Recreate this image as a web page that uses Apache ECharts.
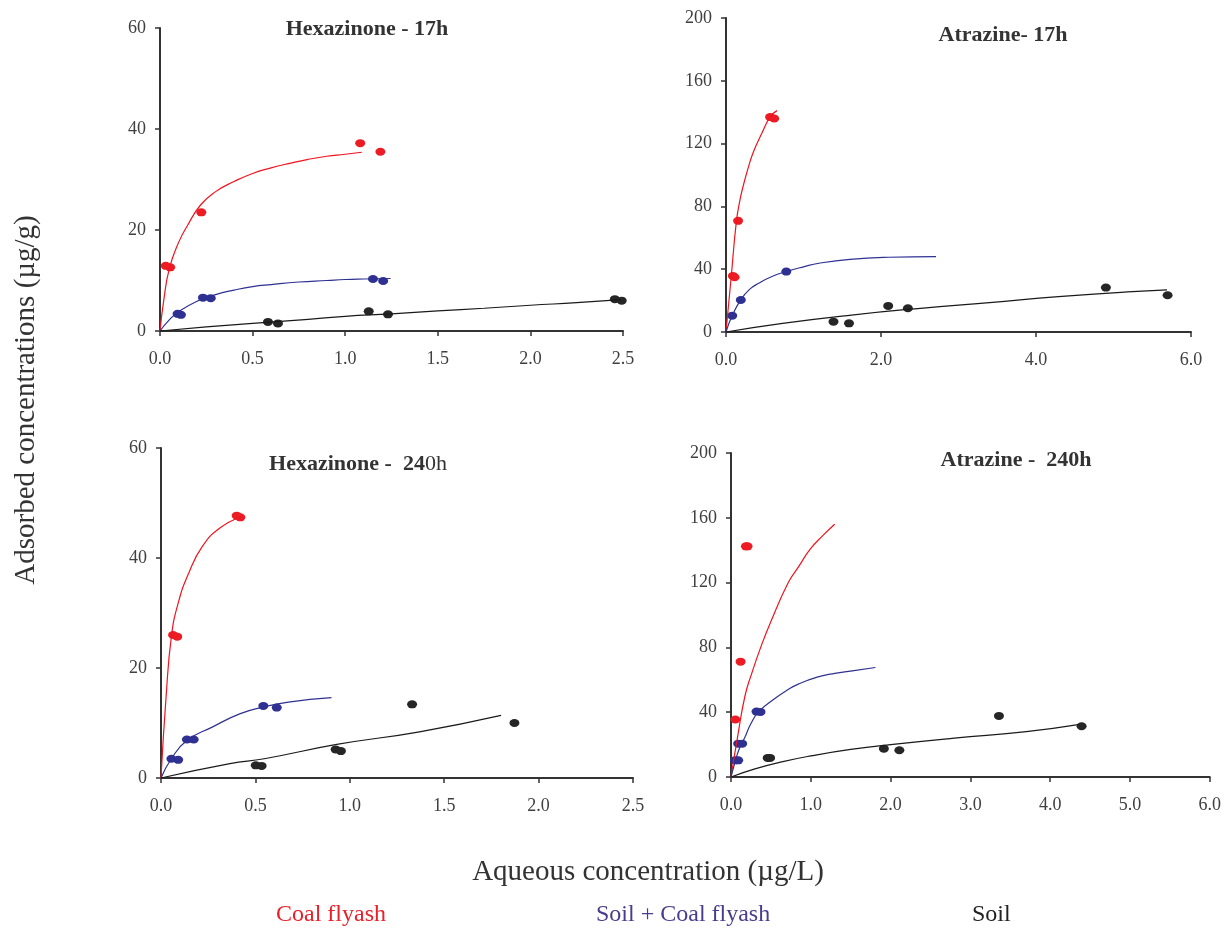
<!DOCTYPE html>
<html>
<head>
<meta charset="utf-8">
<script src="https://cdn.jsdelivr.net/npm/echarts@6/dist/echarts.min.js"></script>
<style>
  html, body { margin: 0; padding: 0; background: #fff; }
  #main { width: 1224px; height: 928px; }
</style>
</head>
<body>
<div id="main"></div>
<script>
// Hexazinone - 17h
var hex17Coal = [[0.031, 12.9], [0.055, 12.6], [0.223, 23.5], [1.081, 37.2], [1.19, 35.5]];
var hex17CoalFit = [[0, 0], [0.02, 6], [0.05, 12.3], [0.1, 17.5], [0.15, 21], [0.22, 25], [0.3, 27.6], [0.4, 29.6], [0.5, 31.2], [0.6, 32.3], [0.7, 33.2], [0.8, 34], [0.9, 34.6], [1.0, 35], [1.09, 35.4]];
var hex17Mix = [[0.095, 3.4], [0.113, 3.2], [0.232, 6.6], [0.274, 6.5], [1.15, 10.3], [1.205, 9.9]];
var hex17MixFit = [[0, 0], [0.05, 2.2], [0.1, 3.8], [0.2, 5.9], [0.3, 7.2], [0.4, 8.1], [0.5, 8.8], [0.6, 9.2], [0.75, 9.7], [0.9, 10.0], [1.0, 10.2], [1.1, 10.3], [1.245, 10.4]];
var hex17Soil = [[0.583, 1.8], [0.637, 1.5], [1.127, 3.9], [1.231, 3.3], [2.456, 6.3], [2.493, 6.0]];
var hex17SoilFit = [[0, 0], [0.25, 0.8], [0.5, 1.5], [0.8, 2.3], [1.0, 2.9], [1.25, 3.4], [1.5, 4.0], [1.75, 4.5], [2.0, 5.1], [2.25, 5.6], [2.49, 6.2]];

// Atrazine - 17h
var atr17Coal = [[0.089, 35.7], [0.111, 34.9], [0.156, 70.8], [0.569, 136.9], [0.622, 136.0]];
var atr17CoalFit = [[0, 0], [0.067, 35], [0.133, 70], [0.18, 84], [0.222, 93], [0.289, 105], [0.356, 115], [0.467, 127], [0.569, 137], [0.658, 141]];
var atr17Mix = [[0.08, 10.4], [0.191, 20.4], [0.778, 38.5]];
var atr17MixFit = [[0, 0], [0.08, 10.5], [0.19, 20.5], [0.3, 27], [0.42, 31], [0.6, 35.5], [0.778, 38.5], [1.0, 41.5], [1.2, 43.8], [1.6, 46.3], [2.1, 47.6], [2.71, 48]];
var atr17Soil = [[1.387, 6.6], [1.587, 5.5], [2.093, 16.6], [2.347, 15.1], [4.902, 28.3], [5.698, 23.4]];
var atr17SoilFit = [[0, 0], [0.73, 5.5], [1.62, 10.8], [2.51, 15.1], [3.4, 18.7], [4.29, 22.5], [5.18, 25.5], [5.69, 26.8]];

// Hexazinone - 240h
var hex240Coal = [[0.064, 26.0], [0.086, 25.7], [0.401, 47.7], [0.42, 47.4]];
var hex240CoalFit = [[0, 0], [0.027, 14.8], [0.055, 25.7], [0.091, 31.8], [0.146, 37.2], [0.219, 42.1], [0.31, 45.4], [0.42, 47.4]];
var hex240Mix = [[0.055, 3.5], [0.091, 3.3], [0.137, 7.0], [0.173, 7.0], [0.542, 13.1], [0.613, 12.8]];
var hex240MixFit = [[0, 0], [0.055, 3.5], [0.137, 6.8], [0.274, 9.3], [0.42, 11.7], [0.542, 12.9], [0.675, 13.8], [0.903, 14.6]];
var hex240Soil = [[0.502, 2.3], [0.533, 2.2], [0.925, 5.2], [0.953, 4.9], [1.33, 13.4], [1.872, 10.0]];
var hex240SoilFit = [[0, 0], [0.365, 2.6], [0.547, 3.5], [0.931, 6.1], [1.369, 8.4], [1.801, 11.4]];

// Atrazine - 240h
var atr240Coal = [[0.054, 35.5], [0.12, 71.2], [0.187, 142.4], [0.207, 142.4]];
var atr240CoalFit = [[0, 0], [0.08, 24], [0.175, 50], [0.26, 64], [0.372, 80], [0.5, 96], [0.718, 120], [0.85, 130], [0.99, 140.5], [1.15, 149], [1.3, 156]];
var atr240Mix = [[0.05, 10.3], [0.09, 10.3], [0.09, 20.6], [0.14, 20.6], [0.32, 40.4], [0.37, 40.2]];
var atr240MixFit = [[0, 0], [0.05, 9], [0.1, 17], [0.17, 24], [0.25, 33], [0.35, 40.5], [0.55, 48.5], [0.7, 53.5], [0.85, 57.5], [1.09, 61.8], [1.3, 64], [1.52, 65.5], [1.81, 67.6]];
var atr240Soil = [[0.46, 11.8], [0.49, 11.8], [1.916, 17.5], [2.11, 16.5], [3.358, 37.7], [4.394, 31.3]];
var atr240SoilFit = [[0, 0], [0.3, 5], [0.65, 9.5], [1.0, 13], [1.5, 17], [2.0, 20], [2.8, 24], [3.7, 28], [4.37, 32.5]];

var panelTitles = ['Hexazinone - 17h', 'Atrazine- 17h', '{b|Hexazinone -  24}{n|0h}', 'Atrazine -  240h'];
var xMax = [2.5, 6, 2.5, 6];
var xStep = [0.5, 2, 0.5, 1];
var yMax = [60, 200, 60, 200];
var yStep = [20, 40, 20, 40];
var groupNames = ['Coal flyash', 'Soil + Coal flyash', 'Soil'];

var panels = [
    [hex17Coal, hex17CoalFit, hex17Mix, hex17MixFit, hex17Soil, hex17SoilFit],
    [atr17Coal, atr17CoalFit, atr17Mix, atr17MixFit, atr17Soil, atr17SoilFit],
    [hex240Coal, hex240CoalFit, hex240Mix, hex240MixFit, hex240Soil, hex240SoilFit],
    [atr240Coal, atr240CoalFit, atr240Mix, atr240MixFit, atr240Soil, atr240SoilFit]
];

var serif = '"Liberation Serif", "Times New Roman", serif';
var dotColors = ['#ed1c24', '#2e3192', '#262626'];
var lineColors = ['#f0141e', '#2e3192', '#1a1a1a'];
var legendColors = ['#e8202a', '#4a3c8c', '#222'];

var grids = [
    { left: 160, top: 28, width: 463, height: 303 },
    { left: 726, top: 18, width: 465, height: 314 },
    { left: 161, top: 448, width: 472, height: 330 },
    { left: 731, top: 453, width: 479, height: 324 }
];
var titlePos = [[362, 13], [998, 19], [353, 448], [1011, 444]];
var legendLeft = [276, 596, 972];

var xAxes = [], yAxes = [], titles = [], series = [], legends = [];
for (var i = 0; i < 4; i++) {
    xAxes.push({
        type: 'value', gridIndex: i, min: 0, max: xMax[i], interval: xStep[i],
        splitLine: { show: false },
        axisLine: { lineStyle: { color: '#333', width: 2 } },
        axisTick: { length: 5, lineStyle: { color: '#333', width: 1.5 } },
        axisLabel: {
            margin: 19, fontSize: 18, color: '#404040', fontFamily: serif,
            formatter: function (v) { return v.toFixed(1); }
        }
    });
    yAxes.push({
        type: 'value', gridIndex: i, min: 0, max: yMax[i], interval: yStep[i],
        splitLine: { show: false },
        axisLine: { show: true, lineStyle: { color: '#333', width: 2 } },
        axisTick: { show: true, length: 5, lineStyle: { color: '#333', width: 1.5 } },
        axisLabel: { margin: 14, fontSize: 18, color: '#404040', fontFamily: serif }
    });
    titles.push({
        text: panelTitles[i],
        left: titlePos[i][0], top: titlePos[i][1], textAlign: 'center',
        textStyle: {
            fontSize: 22, fontWeight: 'bold', color: '#333', fontFamily: serif,
            rich: {
                b: { fontSize: 22, fontWeight: 'bold', color: '#333', fontFamily: serif },
                n: { fontSize: 22, fontWeight: 'normal', color: '#333', fontFamily: serif }
            }
        }
    });
    for (var g = 0; g < 3; g++) {
        series.push({
            name: groupNames[g], type: 'scatter', xAxisIndex: i, yAxisIndex: i,
            symbol: 'circle', symbolSize: [10, 8],
            itemStyle: { color: dotColors[g], opacity: 1 },
            data: panels[i][g * 2]
        });
        series.push({
            name: groupNames[g], type: 'line', xAxisIndex: i, yAxisIndex: i,
            smooth: true, showSymbol: false, symbol: 'none',
            lineStyle: { color: lineColors[g], width: 1.2 },
            data: panels[i][g * 2 + 1]
        });
    }
}

for (var k = 0; k < 3; k++) {
    legends.push({
        data: [{ name: groupNames[k], icon: 'none' }],
        left: legendLeft[k], top: 903,
        itemWidth: 0, itemHeight: 0, itemGap: 0, padding: 0,
        selectedMode: false,
        textStyle: { color: legendColors[k], fontSize: 24, fontFamily: serif, padding: [0, 0, 0, -5] }
    });
}

var oChart = echarts.init(document.getElementById('main'));
oChart.setOption({
    backgroundColor: '#fff',
    animation: false,
    title: titles,
    legend: legends,
    grid: grids,
    xAxis: xAxes,
    yAxis: yAxes,
    series: series,
    graphic: [
        {
            type: 'text', x: 26, y: 400, rotation: Math.PI / 2,
            style: {
                text: 'Adsorbed concentrations (\u00b5g/g)',
                fill: '#333', font: '29px ' + serif,
                textAlign: 'center', textVerticalAlign: 'middle'
            }
        },
        {
            type: 'text', x: 648, y: 872,
            style: {
                text: 'Aqueous concentration (\u00b5g/L)',
                fill: '#333', font: '29px ' + serif,
                textAlign: 'center', textVerticalAlign: 'middle'
            }
        }
    ]
});
</script>
</body>
</html>
